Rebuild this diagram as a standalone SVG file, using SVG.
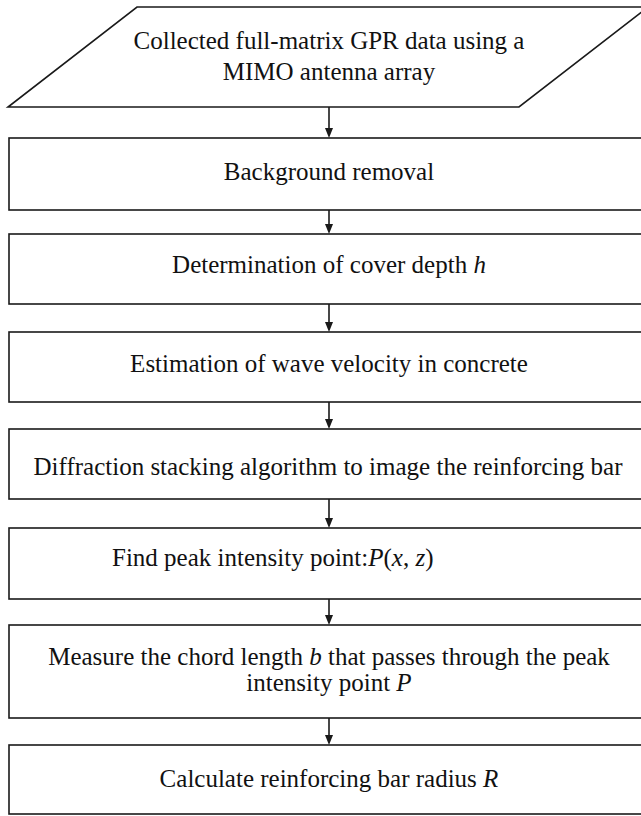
<svg xmlns="http://www.w3.org/2000/svg" width="641" height="816" viewBox="0 0 641 816">
<style>
.box{fill:#fff;stroke:#1a1a1a;stroke-width:1.6}
.t{font-family:"Liberation Serif","Times New Roman",serif;font-size:25px;fill:#111;text-anchor:middle}
.ts{font-family:"Liberation Serif","Times New Roman",serif;font-size:25px;fill:#111}
.i{font-style:italic}
.c{stroke:#1a1a1a;stroke-width:1.6;fill:none}
</style>
<defs>
<marker id="ah" markerWidth="8" markerHeight="10" refX="4" refY="10" orient="auto-start-reverse" markerUnits="userSpaceOnUse" viewBox="0 0 8 10">
<path d="M0,0 L8,0 L4,10 Z" fill="#1a1a1a"/>
</marker>
</defs>
<rect width="641" height="816" fill="#fff"/>
<g id="connectors">
<line class="c" x1="329" y1="107" x2="329" y2="128"/>
<path d="M325,128 L333,128 L329,138 Z" fill="#1a1a1a"/>
<line class="c" x1="329" y1="210" x2="329" y2="224"/>
<path d="M325,224 L333,224 L329,234 Z" fill="#1a1a1a"/>
<line class="c" x1="329" y1="304" x2="329" y2="322"/>
<path d="M325,322 L333,322 L329,332 Z" fill="#1a1a1a"/>
<line class="c" x1="329" y1="402" x2="329" y2="419"/>
<path d="M325,419 L333,419 L329,429 Z" fill="#1a1a1a"/>
<line class="c" x1="329" y1="499" x2="329" y2="518"/>
<path d="M325,518 L333,518 L329,528 Z" fill="#1a1a1a"/>
<line class="c" x1="329" y1="599" x2="329" y2="615"/>
<path d="M325,615 L333,615 L329,625 Z" fill="#1a1a1a"/>
<line class="c" x1="329" y1="718" x2="329" y2="735"/>
<path d="M325,735 L333,735 L329,745 Z" fill="#1a1a1a"/>
</g>
<g id="n0">
<polygon class="box" points="137,7 648,7 519,107 8,107"/>
<text class="t" x="329" y="49">Collected full-matrix GPR data using a</text>
<text class="t" x="329" y="80">MIMO antenna array</text>
</g>
<g id="n1">
<rect class="box" x="9" y="138" width="642" height="72"/>
<text class="t" x="329" y="180">Background removal</text>
</g>
<g id="n2">
<rect class="box" x="9" y="234" width="642" height="70"/>
<text class="t" x="329" y="273">Determination of cover depth <tspan class="i">h</tspan></text>
</g>
<g id="n3">
<rect class="box" x="9" y="332" width="642" height="70"/>
<text class="t" x="329" y="372">Estimation of wave velocity in concrete</text>
</g>
<g id="n4">
<rect class="box" x="9" y="429" width="642" height="70"/>
<text class="t" x="328" y="475">Diffraction stacking algorithm to image the reinforcing bar</text>
</g>
<g id="n5">
<rect class="box" x="9" y="528" width="642" height="71"/>
<text class="ts" x="112" y="566">Find peak intensity point:<tspan class="i">P</tspan>(<tspan class="i">x</tspan>, <tspan class="i">z</tspan>)</text>
</g>
<g id="n6">
<rect class="box" x="9" y="625" width="642" height="93"/>
<text class="t" x="329" y="665">Measure the chord length <tspan class="i">b</tspan> that passes through the peak</text>
<text class="t" x="329" y="691">intensity point <tspan class="i">P</tspan></text>
</g>
<g id="n7">
<rect class="box" x="9" y="745" width="642" height="69"/>
<text class="t" x="329" y="787">Calculate reinforcing bar radius <tspan class="i">R</tspan></text>
</g>
</svg>
